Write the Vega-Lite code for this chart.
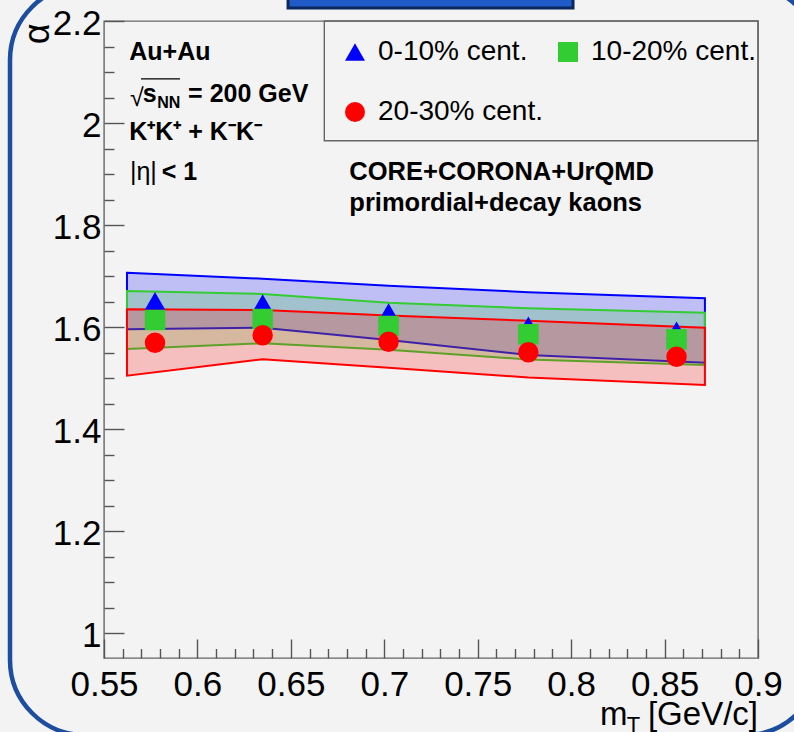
{
  "$schema": "https://vega.github.io/schema/vega-lite/v6.json",
  "width": 654,
  "height": 637,
  "autosize": {"type": "none"},
  "padding": {"left": 104, "top": 21, "right": 36, "bottom": 74},
  "background": "#f3f3f3",
  "config": {
    "view": {"stroke": "#666666", "strokeWidth": 1.4, "fill": "#f3f3f3"},
    "font": "Liberation Sans",
    "axis": {
      "grid": false,
      "domain": false,
      "labelFont": "Liberation Sans",
      "labelColor": "#000000",
      "labelFontSize": 35,
      "tickColor": "#555555",
      "tickWidth": 1.4,
      "labelOverlap": false,
      "labelFlush": false,
      "labelBound": false
    },
    "legend": {
      "title": null,
      "orient": "none",
      "legendX": 220,
      "legendY": 0,
      "columns": 2,
      "direction": "horizontal",
      "padding": 17,
      "labelFont": "Liberation Sans",
      "labelFontSize": 28,
      "labelColor": "#000000",
      "labelLimit": 400,
      "symbolSize": 400,
      "symbolStrokeWidth": 0,
      "symbolOffset": 0,
      "labelOffset": 9,
      "columnPadding": 11,
      "rowPadding": 32
    },
    "text": {
      "font": "Liberation Sans",
      "fontSize": 25,
      "fontWeight": "bold",
      "align": "left",
      "baseline": "alphabetic",
      "color": "#000000"
    }
  },
  "datasets": {
    "bands": [
      {"cent": "0-10% cent.", "mt": 0.5623, "lo": 1.5955, "hi": 1.7065},
      {"cent": "0-10% cent.", "mt": 0.6349, "lo": 1.5986, "hi": 1.6947},
      {"cent": "0-10% cent.", "mt": 0.7023, "lo": 1.5745, "hi": 1.681},
      {"cent": "0-10% cent.", "mt": 0.7771, "lo": 1.5451, "hi": 1.6682},
      {"cent": "0-10% cent.", "mt": 0.8716, "lo": 1.53, "hi": 1.6563},
      {"cent": "10-20% cent.", "mt": 0.5623, "lo": 1.5569, "hi": 1.6706},
      {"cent": "10-20% cent.", "mt": 0.6349, "lo": 1.568, "hi": 1.6647},
      {"cent": "10-20% cent.", "mt": 0.7023, "lo": 1.5555, "hi": 1.6475},
      {"cent": "10-20% cent.", "mt": 0.7771, "lo": 1.5363, "hi": 1.6369},
      {"cent": "10-20% cent.", "mt": 0.8716, "lo": 1.5255, "hi": 1.628},
      {"cent": "20-30% cent.", "mt": 0.5623, "lo": 1.5045, "hi": 1.6347},
      {"cent": "20-30% cent.", "mt": 0.6349, "lo": 1.5367, "hi": 1.6333},
      {"cent": "20-30% cent.", "mt": 0.7023, "lo": 1.5202, "hi": 1.6227},
      {"cent": "20-30% cent.", "mt": 0.7771, "lo": 1.501, "hi": 1.6122},
      {"cent": "20-30% cent.", "mt": 0.8716, "lo": 1.4863, "hi": 1.5986}
    ],
    "points": [
      {"cent": "0-10% cent.", "mt": 0.5773, "alpha": 1.651},
      {"cent": "0-10% cent.", "mt": 0.6349, "alpha": 1.647},
      {"cent": "0-10% cent.", "mt": 0.7023, "alpha": 1.629},
      {"cent": "0-10% cent.", "mt": 0.7771, "alpha": 1.6033},
      {"cent": "0-10% cent.", "mt": 0.8564, "alpha": 1.5935},
      {"cent": "10-20% cent.", "mt": 0.5773, "alpha": 1.6137},
      {"cent": "10-20% cent.", "mt": 0.6349, "alpha": 1.6157},
      {"cent": "10-20% cent.", "mt": 0.7023, "alpha": 1.602},
      {"cent": "10-20% cent.", "mt": 0.7771, "alpha": 1.5857},
      {"cent": "10-20% cent.", "mt": 0.8564, "alpha": 1.5758},
      {"cent": "20-30% cent.", "mt": 0.5773, "alpha": 1.569},
      {"cent": "20-30% cent.", "mt": 0.6349, "alpha": 1.5837},
      {"cent": "20-30% cent.", "mt": 0.7023, "alpha": 1.5712},
      {"cent": "20-30% cent.", "mt": 0.7771, "alpha": 1.5504},
      {"cent": "20-30% cent.", "mt": 0.8564, "alpha": 1.5418}
    ]
  },
  "resolve": {"axis": {"x": "independent", "y": "independent"}},
  "layer": [
    {
      "description": "rounded slide border around the figure",
      "data": {"values": [{}]},
      "mark": {"type": "rect", "fillOpacity": 0, "stroke": "#1c4d9e", "strokeWidth": 4.5, "cornerRadius": 75},
      "encoding": {
        "x": {"datum": 0.4997, "type": "quantitative", "axis": null},
        "x2": {"datum": 0.9332},
        "y": {"datum": 2.2706, "type": "quantitative", "axis": null},
        "y2": {"datum": 0.8}
      }
    },
    {
      "description": "slide title box peeking in at the top",
      "data": {"values": [{}]},
      "mark": {"type": "rect", "fill": "#1f5cc8", "stroke": "#0b275f", "strokeWidth": 3},
      "encoding": {
        "x": {"datum": 0.6485, "type": "quantitative", "axis": null},
        "x2": {"datum": 0.801},
        "y": {"datum": 2.3196, "type": "quantitative", "axis": null},
        "y2": {"datum": 2.2255}
      }
    },
    {
      "description": "legend box, flush with the top-right corner of the frame",
      "data": {"values": [{}]},
      "mark": {"type": "rect", "fillOpacity": 0, "stroke": "#666666", "strokeWidth": 1.4},
      "encoding": {
        "x": {"datum": 0.6679, "type": "quantitative", "axis": null},
        "x2": {"datum": 0.9},
        "y": {"datum": 2.2, "type": "quantitative", "axis": null},
        "y2": {"datum": 1.9653}
      }
    },
    {
      "description": "model uncertainty bands; fill/stroke scales take their (alphabetical) domain from the data",
      "data": {"name": "bands"},
      "mark": {"type": "area", "fillOpacity": 0.21, "strokeWidth": 2, "strokeOpacity": 1},
      "encoding": {
        "x": {
          "field": "mt", "type": "quantitative",
          "scale": {"domain": [0.55, 0.9], "nice": false, "zero": false},
          "axis": {
            "orient": "bottom",
            "values": [0.55, 0.6, 0.65, 0.7, 0.75, 0.8, 0.85, 0.9],
            "format": "~g",
            "tickSize": -19,
            "labelPadding": 28,
            "title": null
          }
        },
        "y": {
          "field": "hi", "type": "quantitative", "stack": null,
          "scale": {"domain": [0.951, 2.2], "nice": false, "zero": false},
          "axis": {
            "orient": "left",
            "values": [1, 1.2, 1.4, 1.6, 1.8, 2, 2.2],
            "format": "~g",
            "tickSize": -20,
            "labelPadding": 23,
            "labelOffset": 2,
            "title": "α",
            "titleFont": "Liberation Sans",
            "titleFontSize": 36,
            "titleFontWeight": "normal",
            "titleColor": "#000000",
            "titleAngle": 270,
            "titleAlign": "right",
            "titleBaseline": "alphabetic",
            "titleX": -56,
            "titleY": 2
          }
        },
        "y2": {"field": "lo"},
        "fill": {
          "field": "cent", "type": "nominal",
          "scale": {"range": ["#0000ff", "#33cc33", "#ff0000"]},
          "legend": null
        },
        "stroke": {
          "field": "cent", "type": "nominal",
          "scale": {"range": ["#0000ff", "#33cc33", "#ff0000"]},
          "legend": null
        }
      }
    },
    {
      "description": "alpha values per centrality class",
      "data": {"name": "points"},
      "mark": {"type": "point", "filled": true, "opacity": 1, "strokeWidth": 0, "size": 420},
      "encoding": {
        "x": {
          "field": "mt", "type": "quantitative",
          "axis": {
            "orient": "bottom",
            "values": [0.56, 0.57, 0.58, 0.59, 0.61, 0.62, 0.63, 0.64, 0.66, 0.67, 0.68, 0.69, 0.71, 0.72, 0.73, 0.74, 0.76, 0.77, 0.78, 0.79, 0.81, 0.82, 0.83, 0.84, 0.86, 0.87, 0.88, 0.89],
            "labels": false,
            "tickSize": -9.5,
            "title": null
          }
        },
        "y": {
          "field": "alpha", "type": "quantitative",
          "axis": {
            "orient": "left",
            "values": [1.05, 1.1, 1.15, 1.25, 1.3, 1.35, 1.45, 1.5, 1.55, 1.65, 1.7, 1.75, 1.85, 1.9, 1.95, 2.05, 2.1, 2.15],
            "labels": false,
            "tickSize": -10,
            "title": null
          }
        },
        "color": {
          "field": "cent", "type": "nominal",
          "scale": {"domain": ["0-10% cent.", "10-20% cent.", "20-30% cent."], "range": ["#0000ff", "#33cc33", "#ff0000"]},
          "legend": {"orient": "none", "legendX": 220, "legendY": 0}
        },
        "shape": {
          "field": "cent", "type": "nominal",
          "scale": {"domain": ["0-10% cent.", "10-20% cent.", "20-30% cent."], "range": ["triangle-up", "square", "circle"]},
          "legend": {"orient": "none", "legendX": 220, "legendY": 0}
        }
      }
    },
    {
      "data": {"values": [{}]},
      "mark": {"type": "text", "text": "Au+Au"},
      "encoding": {
        "x": {"datum": 0.5635, "type": "quantitative", "axis": null},
        "y": {"datum": 2.1235, "type": "quantitative", "axis": null}
      }
    },
    {
      "data": {"values": [{}]},
      "mark": {"type": "text", "text": "√", "fontWeight": "normal"},
      "encoding": {
        "x": {"datum": 0.5639, "type": "quantitative", "axis": null},
        "y": {"datum": 2.0333, "type": "quantitative", "axis": null}
      }
    },
    {
      "description": "bar over s_NN belonging to the root sign",
      "data": {"values": [{}]},
      "mark": {"type": "rule", "stroke": "#000000", "strokeWidth": 1.4},
      "encoding": {
        "x": {"datum": 0.5698, "type": "quantitative", "axis": null},
        "x2": {"datum": 0.5907},
        "y": {"datum": 2.0865, "type": "quantitative", "axis": null}
      }
    },
    {
      "data": {"values": [{}]},
      "mark": {"type": "text", "text": "s"},
      "encoding": {
        "x": {"datum": 0.5707, "type": "quantitative", "axis": null},
        "y": {"datum": 2.0418, "type": "quantitative", "axis": null}
      }
    },
    {
      "data": {"values": [{}]},
      "mark": {"type": "text", "text": "NN", "fontSize": 16},
      "encoding": {
        "x": {"datum": 0.5785, "type": "quantitative", "axis": null},
        "y": {"datum": 2.0288, "type": "quantitative", "axis": null}
      }
    },
    {
      "data": {"values": [{}]},
      "mark": {"type": "text", "text": "= 200 GeV"},
      "encoding": {
        "x": {"datum": 0.595, "type": "quantitative", "axis": null},
        "y": {"datum": 2.0418, "type": "quantitative", "axis": null}
      }
    },
    {
      "data": {"values": [{}]},
      "mark": {"type": "text", "text": "K⁺K⁺ + K⁻K⁻"},
      "encoding": {
        "x": {"datum": 0.5635, "type": "quantitative", "axis": null},
        "y": {"datum": 1.9667, "type": "quantitative", "axis": null}
      }
    },
    {
      "data": {"values": [{}]},
      "mark": {"type": "text", "text": "|η|", "fontWeight": "normal"},
      "encoding": {
        "x": {"datum": 0.5639, "type": "quantitative", "axis": null},
        "y": {"datum": 1.8882, "type": "quantitative", "axis": null}
      }
    },
    {
      "data": {"values": [{}]},
      "mark": {"type": "text", "text": "< 1"},
      "encoding": {
        "x": {"datum": 0.5809, "type": "quantitative", "axis": null},
        "y": {"datum": 1.8882, "type": "quantitative", "axis": null}
      }
    },
    {
      "data": {"values": [{}]},
      "mark": {"type": "text", "text": "CORE+CORONA+UrQMD", "fontSize": 25.5},
      "encoding": {
        "x": {"datum": 0.6813, "type": "quantitative", "axis": null},
        "y": {"datum": 1.8882, "type": "quantitative", "axis": null}
      }
    },
    {
      "data": {"values": [{}]},
      "mark": {"type": "text", "text": "primordial+decay kaons", "fontSize": 25.5},
      "encoding": {
        "x": {"datum": 0.6813, "type": "quantitative", "axis": null},
        "y": {"datum": 1.828, "type": "quantitative", "axis": null}
      }
    },
    {
      "description": "x-axis title m_T [GeV/c]",
      "data": {"values": [{}]},
      "mark": {"type": "text", "text": "m", "fontWeight": "normal", "fontSize": 33},
      "encoding": {
        "x": {"datum": 0.8154, "type": "quantitative", "axis": null},
        "y": {"datum": 0.8196, "type": "quantitative", "axis": null}
      }
    },
    {
      "data": {"values": [{}]},
      "mark": {"type": "text", "text": "T", "fontWeight": "normal", "fontSize": 22},
      "encoding": {
        "x": {"datum": 0.8297, "type": "quantitative", "axis": null},
        "y": {"datum": 0.8059, "type": "quantitative", "axis": null}
      }
    },
    {
      "data": {"values": [{}]},
      "mark": {"type": "text", "text": "[GeV/c]", "fontWeight": "normal", "fontSize": 33, "align": "right"},
      "encoding": {
        "x": {"datum": 0.9, "type": "quantitative", "axis": null},
        "y": {"datum": 0.8196, "type": "quantitative", "axis": null}
      }
    }
  ]
}
